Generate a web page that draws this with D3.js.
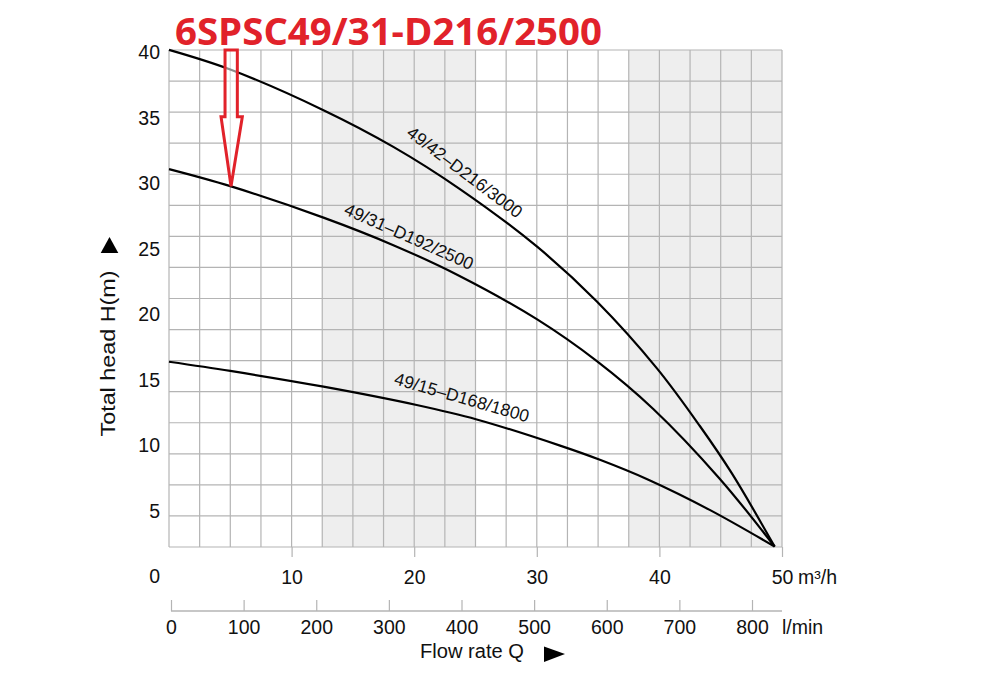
<!DOCTYPE html>
<html>
<head>
<meta charset="utf-8">
<script src="https://cdn.jsdelivr.net/npm/d3@7"></script>
<style>
  body { margin: 0; background: #fff; }
  svg { display: block; font-family: "Liberation Sans", Arial, sans-serif; }
</style>
</head>
<body>
<svg id="chart" width="1000" height="682"></svg>
<script>
//============================================================
// Data
//------------------------------------------------------------

var titleText = "6SPSC49/31-D216/2500";

var headTicks = [0, 5, 10, 15, 20, 25, 30, 35, 40];      // m
var flowTicks = [10, 20, 30, 40, 50];                     // m3/h
var lminTicks = [0, 100, 200, 300, 400, 500, 600, 700, 800]; // l/min
var shadeBands = [[12.5, 25], [37.5, 50]];                // m3/h

var curveNames = ["49/42\u2013D216/3000", "49/31\u2013D192/2500", "49/15\u2013D168/1800"];

var flow42 = [0, 5.0, 12.6, 18.3, 23.7, 30.0, 34.9, 39.8, 43.3, 45.9, 49.4];
var head42 = [40.2, 38.7, 35.6, 32.8, 29.6, 25.2, 21.0, 15.9, 11.5, 7.9, 2.3];

var flow31 = [0, 5.0, 12.6, 18.3, 23.7, 30.0, 34.9, 39.5, 44.9, 49.4];
var head31 = [31.1, 29.8, 27.4, 25.3, 22.95, 19.65, 16.45, 12.8, 7.5, 2.3];

var flow15 = [0, 5.0, 12.6, 20.2, 25.1, 31.9, 35.2, 39.1, 44.1, 49.4];
var head15 = [16.4, 15.7, 14.5, 13.1, 12.0, 10.0, 8.9, 7.4, 5.1, 2.3];

// the highlighted duty point (red arrow) on the 49/31 curve
var markFlow = 5.06;
var markHead = 29.8;

//============================================================
// Layout
//------------------------------------------------------------

var svg = d3.select("#chart");
var gridTop = 50, gridBottom = 547, gridRows = 16;
var gridColor = "#b4b4b4";
var red = "#e1222a";
var labelSize = 19.5;

var x = d3.scaleLinear().domain([0, 50]).range([169, 782]);
var xl = d3.scaleLinear().domain([0, 800]).range([171, 752]);
var y = d3.scaleLinear().domain([0, 40]).range([576.7, 52.5]);
var row = d3.scaleLinear().domain([0, gridRows]).range([gridBottom, gridTop]);

var curves = [
    { name: curveNames[0], q: flow42, h: head42, lq: 19.3, lh: 33.7, angle: 37 },
    { name: curveNames[1], q: flow31, h: head31, lq: 14.2, lh: 27.7, angle: 24 },
    { name: curveNames[2], q: flow15, h: head15, lq: 18.3, lh: 14.7, angle: 16 }
];

//============================================================
// Grid
//------------------------------------------------------------

var grid = svg.append("g").attr("class", "grid");

grid.selectAll("rect.band")
    .data(shadeBands)
    .enter().append("rect")
    .attr("class", "band")
    .attr("x", function(d) { return x(d[0]); })
    .attr("width", function(d) { return x(d[1]) - x(d[0]); })
    .attr("y", gridTop)
    .attr("height", gridBottom - gridTop)
    .style("fill", "#eeeeee");

grid.selectAll("line.v")
    .data(d3.range(0, 50.01, 2.5))
    .enter().append("line")
    .attr("class", "v")
    .attr("x1", function(d) { return x(d); })
    .attr("x2", function(d) { return x(d); })
    .attr("y1", gridTop)
    .attr("y2", gridBottom)
    .style("stroke", gridColor)
    .style("stroke-width", 1.2);

grid.selectAll("line.h")
    .data(d3.range(0, gridRows + 1))
    .enter().append("line")
    .attr("class", "h")
    .attr("x1", x(0))
    .attr("x2", x(50))
    .attr("y1", function(d) { return row(d); })
    .attr("y2", function(d) { return row(d); })
    .style("stroke", gridColor)
    .style("stroke-width", 1.2);

//============================================================
// Axes
//------------------------------------------------------------

function styleAxis(g) {
    g.attr("font-size", labelSize)
        .attr("font-family", "'Liberation Sans', Arial, sans-serif");
    g.select(".domain").remove();
    g.selectAll(".tick line").style("stroke", gridColor).style("stroke-width", 1.2);
    g.selectAll(".tick text").style("fill", "#111");
}

// head (m)
svg.append("g")
    .attr("transform", "translate(" + x(0) + ",0)")
    .call(d3.axisLeft(y).tickValues(headTicks).tickSize(0).tickPadding(9))
    .call(styleAxis);

// flow m3/h
svg.append("g")
    .attr("transform", "translate(0," + gridBottom + ")")
    .call(d3.axisBottom(x).tickValues(flowTicks).tickSizeInner(10).tickSizeOuter(0).tickPadding(13))
    .call(styleAxis);

svg.append("text")
    .attr("x", 798)
    .attr("y", 584)
    .attr("font-size", labelSize)
    .style("fill", "#111")
    .text("m\u00b3/h");

// flow l/min
var lminY = 611;
svg.append("line")
    .attr("x1", xl(0))
    .attr("x2", x(50))
    .attr("y1", lminY)
    .attr("y2", lminY)
    .style("stroke", gridColor)
    .style("stroke-width", 1.5);

svg.append("g")
    .attr("transform", "translate(0," + lminY + ")")
    .call(d3.axisBottom(xl).tickValues(lminTicks).tickSizeInner(-11).tickSizeOuter(0).tickPadding(9))
    .call(styleAxis);

svg.append("text")
    .attr("x", 782)
    .attr("y", 634)
    .attr("font-size", labelSize)
    .style("fill", "#111")
    .text("l/min");

// axis titles
svg.append("text")
    .attr("transform", "translate(115,353.5) rotate(-90)")
    .attr("text-anchor", "middle")
    .attr("font-size", 21)
    .attr("textLength", 166)
    .attr("lengthAdjust", "spacingAndGlyphs")
    .style("fill", "#111")
    .text("Total head H(m)");

svg.append("path")
    .attr("d", "M109.5,237L118.3,253L100.7,253Z")
    .style("fill", "#000");

svg.append("text")
    .attr("x", 420)
    .attr("y", 658)
    .attr("font-size", 20)
    .attr("textLength", 104)
    .attr("lengthAdjust", "spacingAndGlyphs")
    .style("fill", "#111")
    .text("Flow rate Q");

svg.append("path")
    .attr("d", "M544,646.5L565,654L544,662Z")
    .style("fill", "#000");

//============================================================
// Curves
//------------------------------------------------------------

var line = d3.line()
    .x(function(d) { return x(d[0]); })
    .y(function(d) { return y(d[1]); })
    .curve(d3.curveCatmullRom.alpha(0.5));

var curveG = svg.append("g").attr("class", "curves");

curveG.selectAll("path")
    .data(curves)
    .enter().append("path")
    .attr("d", function(c) { return line(d3.zip(c.q, c.h)); })
    .style("fill", "none")
    .style("stroke", "#000")
    .style("stroke-width", 2.2);

curveG.selectAll("text")
    .data(curves)
    .enter().append("text")
    .attr("transform", function(c) {
        return "translate(" + x(c.lq) + "," + y(c.lh) + ") rotate(" + c.angle + ")";
    })
    .attr("font-size", 17.5)
    .style("fill", "#111")
    .text(function(c) { return c.name; });

//============================================================
// Title + red arrow
//------------------------------------------------------------

svg.append("text")
    .attr("x", 175)
    .attr("y", 45)
    .attr("font-family", "'Open Sans', 'Noto Sans', sans-serif")
    .attr("font-weight", "bold")
    .attr("font-size", 37)
    .attr("textLength", 427)
    .attr("lengthAdjust", "spacingAndGlyphs")
    .style("fill", red)
    .text(titleText);

var tipX = x(markFlow), tipY = y(markHead);
var arrowTop = tipY - gridTop;
svg.append("path")
    .attr("transform", "translate(" + tipX + "," + tipY + ")")
    .attr("d", "M-6," + (-arrowTop) + "L6.3," + (-arrowTop) + "L6.3,-69.5L11.3,-69.5L0,0L-10,-69.5L-6,-69.5Z")
    .style("fill", "#fff")
    .style("fill-opacity", 0.55)
    .style("stroke", red)
    .style("stroke-width", 3)
    .style("stroke-linejoin", "miter");
</script>
</body>
</html>
